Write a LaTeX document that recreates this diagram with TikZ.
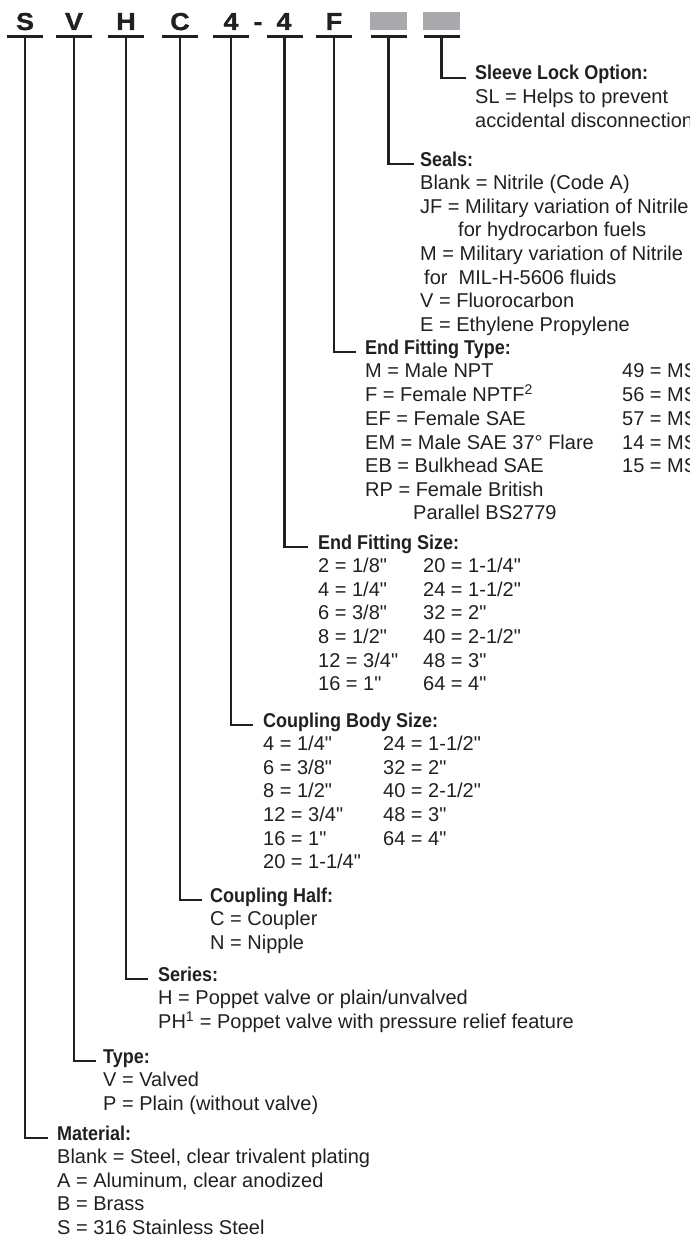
\documentclass[tikz,border=0pt]{standalone}
\usepackage{fontspec}
\newfontfamily\bodyfont{Liberation Sans}
\newfontfamily\hdfont{Liberation Sans}[FakeStretch=0.9]
\newfontfamily\codefont{Liberation Sans}[FakeStretch=1.1,FakeBold=1.2]
\usetikzlibrary{positioning}
\definecolor{Ink}{HTML}{231F20}
\definecolor{Blank}{HTML}{A7A9AC}
\newcommand{\hd}[1]{{\hdfont\bfseries #1}}
\newcommand{\cell}[2]{\makebox[#1][l]{#2}}
\newcommand{\opts}[1]{\begin{tabular}[t]{@{}l@{}}#1\end{tabular}}

\begin{document}
\begin{tikzpicture}[
  x=1pt,y=-1pt,
  every node/.style={inner sep=0pt,text=Ink},
  code/.style={anchor=base,font=\codefont\bfseries\fontsize{24.5}{24.5}\selectfont},
  bar/.style={fill=Ink,minimum width=36pt,minimum height=2.4pt},
  greybox/.style={fill=Blank,minimum width=37pt,minimum height=18pt},
  blk/.style={anchor=base west,font=\bodyfont\fontsize{20}{23.6}\selectfont},
  lead/.style={draw=Ink,line width=2.2pt}
]
\useasboundingbox (0,0) rectangle (690,1236);
% part number
\node[code] (cS) at (25,30) {S};
\node[code] (cV) at (74,30) {V};
\node[code] (cH) at (126,30) {H};
\node[code] (cC) at (180,30) {C};
\node[code] (cBody) at (231,30) {4};
\node[code] (dash) at (258,30) {-};
\node[code] (cEnd) at (284,30) {4};
\node[code] (cF) at (334,30) {F};
\node[greybox] (gSeal) at (388.5,21) {};
\node[greybox] (gLock) at (441.5,21) {};
\node[bar] (bS) at (25,36.5) {};
\node[bar] (bV) at (74,36.5) {};
\node[bar] (bH) at (126,36.5) {};
\node[bar] (bC) at (180,36.5) {};
\node[bar] (bBody) at (231,36.5) {};
\node[bar] (bEnd) at (284.5,36.5) {};
\node[bar] (bF) at (334,36.5) {};
\node[bar] (bSeal) at (388.5,36.5) {};
\node[bar] (bLock) at (441.5,36.5) {};
% option blocks
\node[blk] (lock) at (475,80) {\opts{\hd{Sleeve Lock Option:}\\SL = Helps to prevent\\accidental disconnection}};
\node[blk] (seals) at (420,166) {\opts{\hd{Seals:}\\
  Blank = Nitrile (Code A)\\
  JF = Military variation of Nitrile\\
  \hspace*{38pt}for hydrocarbon fuels\\
  M = Military variation of Nitrile\\
  \hspace*{4pt}for\ \ MIL-H-5606 fluids\\
  V = Fluorocarbon\\
  E = Ethylene Propylene}};
\node[blk] (endtype) at (365,354) {\opts{\hd{End Fitting Type:}\\
  \cell{257pt}{M = Male NPT}49 = MS\\
  \cell{257pt}{F = Female NPTF\textsuperscript{2}}56 = MS\\
  \cell{257pt}{EF = Female SAE}57 = MS\\
  \cell{257pt}{EM = Male SAE 37° Flare}14 = MS\\
  \cell{257pt}{EB = Bulkhead SAE}15 = MS\\
  RP = Female British\\
  \hspace*{48pt}Parallel BS2779}};
\node[blk] (endsize) at (318,549) {\opts{\hd{End Fitting Size:}\\
  \cell{105pt}{2 = 1/8"}20 = 1-1/4"\\
  \cell{105pt}{4 = 1/4"}24 = 1-1/2"\\
  \cell{105pt}{6 = 3/8"}32 = 2"\\
  \cell{105pt}{8 = 1/2"}40 = 2-1/2"\\
  \cell{105pt}{12 = 3/4"}48 = 3"\\
  \cell{105pt}{16 = 1"}64 = 4"}};
\node[blk] (bodysize) at (263,727) {\opts{\hd{Coupling Body Size:}\\
  \cell{120pt}{4 = 1/4"}24 = 1-1/2"\\
  \cell{120pt}{6 = 3/8"}32 = 2"\\
  \cell{120pt}{8 = 1/2"}40 = 2-1/2"\\
  \cell{120pt}{12 = 3/4"}48 = 3"\\
  \cell{120pt}{16 = 1"}64 = 4"\\
  20 = 1-1/4"}};
\node[blk] (half) at (210,902) {\opts{\hd{Coupling Half:}\\C = Coupler\\N = Nipple}};
\node[blk] (series) at (158,981) {\opts{\hd{Series:}\\
  H = Poppet valve or plain/unvalved\\
  PH\textsuperscript{1} = Poppet valve with pressure relief feature}};
\node[blk] (type) at (103,1063) {\opts{\hd{Type:}\\V = Valved\\P = Plain (without valve)}};
\node[blk] (material) at (57,1140) {\opts{\hd{Material:}\\
  Blank = Steel, clear trivalent plating\\
  A = Aluminum, clear anodized\\
  B = Brass\\
  S = 316 Stainless Steel}};
% leaders
\draw[lead] (bLock.south) |- ([xshift=-9pt,yshift=2pt]lock.base west);
\draw[lead] (bSeal.south) |- ([xshift=-6pt,yshift=2pt]seals.base west);
\draw[lead] (bF.south) |- ([xshift=-9pt,yshift=2pt]endtype.base west);
\draw[lead] (bEnd.south) |- ([xshift=-10pt,yshift=2pt]endsize.base west);
\draw[lead] (bBody.south) |- ([xshift=-10pt,yshift=2pt]bodysize.base west);
\draw[lead] (bC.south) |- ([xshift=-8pt,yshift=2pt]half.base west);
\draw[lead] (bH.south) |- ([xshift=-10pt,yshift=2pt]series.base west);
\draw[lead] (bV.south) |- ([xshift=-7pt,yshift=2pt]type.base west);
\draw[lead] (bS.south) |- ([xshift=-9pt,yshift=2pt]material.base west);
\end{tikzpicture}
\end{document}
